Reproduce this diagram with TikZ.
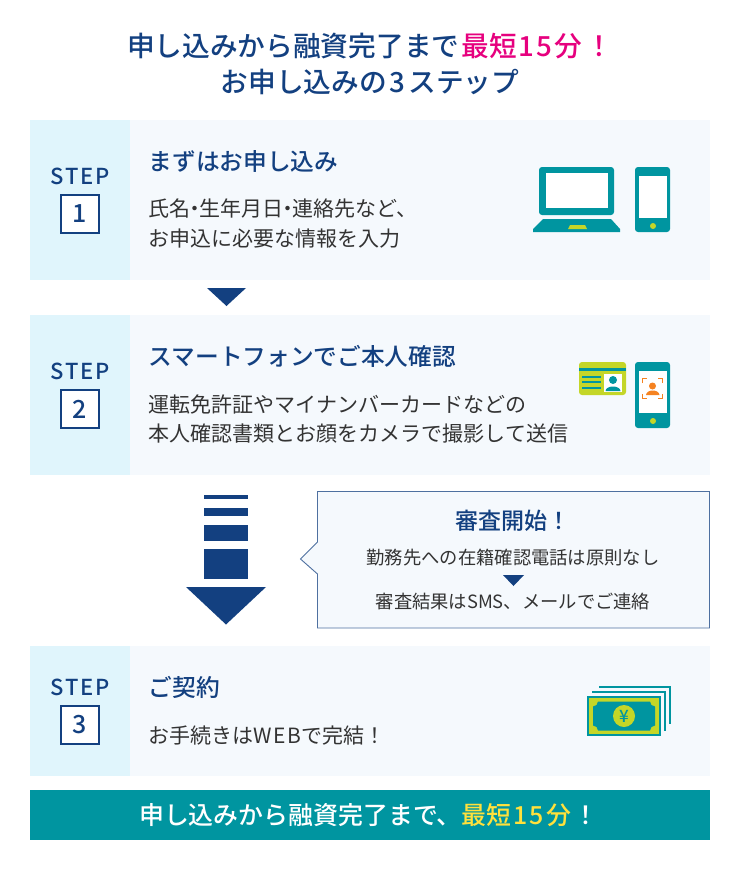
\documentclass[tikz,border=0pt]{standalone}
\usetikzlibrary{positioning}
\usepackage{fontspec}
\setmainfont{Noto Sans CJK JP}[BoldFont={Noto Sans CJK JP Medium}]
\newfontfamily\widelatin{Noto Sans CJK JP}[LetterSpace=8,BoldFont={Noto Sans CJK JP Medium}]
\definecolor{navy}{RGB}{19,64,128}
\definecolor{ink}{RGB}{51,51,51}
\definecolor{pink}{RGB}{230,0,126}
\definecolor{teal}{RGB}{0,149,160}
\definecolor{lime}{RGB}{196,214,40}
\definecolor{gold}{RGB}{255,225,60}
\definecolor{panelbg}{RGB}{245,249,253}
\definecolor{headbg}{RGB}{224,245,252}
\definecolor{person}{RGB}{245,130,32}
\tikzset{
    panelbody/.style={rectangle, fill=panelbg, anchor=north west, inner sep=0pt, minimum width=580pt},
    panelhead/.style={rectangle, fill=headbg, anchor=north west, inner sep=0pt, minimum width=100pt},
    stepword/.style={text=navy, inner sep=0pt, font=\fontsize{22}{26}\widelatin\bfseries},
    numbox/.style={rectangle, draw=navy, line width=1.2pt, fill=white, minimum size=38pt, inner sep=0pt, text=navy, font=\fontsize{25}{28}\bfseries\selectfont},
    steptitle/.style={anchor=west, inner sep=0pt, text=navy, font=\fontsize{23.7}{28}\bfseries\selectfont},
    bodytext/.style={anchor=west, inner sep=0pt, text=ink, font=\fontsize{21}{25}\selectfont},
    headline/.style={inner sep=0pt, text=navy, font=\fontsize{27.7}{32}\bfseries\selectfont},
    smallnote/.style={inner sep=0pt, text=ink, font=\fontsize{18.3}{22}\selectfont}
}
\begin{document}
\begin{tikzpicture}[x=1pt,y=-1pt]
    \useasboundingbox (0,0) rectangle (740,870);

    % Heading
    \node[headline] (line1) at (370,46) {申し込みから融資完了まで\kern2pt\textcolor{pink}{最短\kern2pt{\widelatin 15}\kern2pt 分\kern3pt！}};
    \node[headline] (line2) at (370,82) {お申し込みの\kern3pt{\widelatin 3}\kern3pt ステップ};

    % Step panels
    \foreach \num/\ytop/\hgt/\ymid in {1/120/160/214,2/315/160/409,3/646/130/725} {
        \node[panelbody, minimum height=\hgt pt] (body\num) at (130,\ytop) {};
        \node[panelhead, minimum height=\hgt pt] (side\num) at (30,\ytop) {};
        \node[numbox] (num\num) at (80,\ymid) {\num};
        \node[stepword, above=9pt of num\num] (word\num) {STEP};
    }

    % Panel texts
    \node[steptitle] (title1) at (148.5,161) {まずはお申し込み};
    \node[bodytext] (text1a) at (148.5,209) {氏名\kern-6pt・\kern-6pt 生年月日\kern-6pt・\kern-6pt 連絡先など、};
    \node[bodytext] (text1b) at (148.5,239) {お申込に必要な情報を入力};
    \node[steptitle] (title2) at (148.5,356) {スマートフォンでご本人確認};
    \node[bodytext] (text2a) at (148.5,404) {運転免許証やマイナンバーカードなどの};
    \node[bodytext] (text2b) at (148.5,434) {本人確認書類とお顔をカメラで撮影して送信};
    \node[steptitle] (title3) at (148.5,687) {ご契約};
    \node[bodytext] (text3a) at (148.5,736) {お手続きは{\widelatin WEB}で完結！};

    % Arrow under step 1
    \fill[navy] (207,288) -- (246,288) -- (226.5,306) -- cycle;

    % Striped arrow
    \foreach \ya/\yb in {495/499,508/516,525/541,549/579} {
        \fill[navy] (204,\ya) rectangle (248,\yb);
    }
    \fill[navy] (186,587) -- (266,587) -- (226,624.5) -- cycle;

    % Callout
    \draw[navy!75!white, line width=0.9pt, fill=panelbg] (317.5,491.5) -- (709.5,491.5) -- (709.5,628) -- (317.5,628)
        -- (317.5,574) -- (300.5,559) -- (317.5,542) -- cycle;
    \node[inner sep=0pt, text=navy, font=\fontsize{23}{27}\bfseries\selectfont] (calloutA) at (513,521) {審査開始！};
    \node[smallnote] (calloutB) at (513,558) {勤務先への在籍確認電話は原則なし};
    \fill[navy] (503,575) -- (524,575) -- (513.5,586) -- cycle;
    \node[smallnote] (calloutC) at (513,602) {審査結果はSMS、メールでご連絡};

    % Laptop and phone
    \fill[teal, rounded corners=3pt] (539,167) rectangle (614,215);
    \fill[white] (546,173) rectangle (608,208);
    \fill[teal] (543,219) -- (611,219) -- (620,229) -- (620,232) -- (533,232) -- (533,229) -- cycle;
    \fill[lime] (570,225) -- (585,225) -- (587,229) -- (568,229) -- cycle;
    \fill[teal, rounded corners=3pt] (635,167) rectangle (670,232);
    \fill[white] (638.5,176) rectangle (667,218);
    \fill[lime] (653,226) circle (3pt);

    % Card and phone
    \fill[lime, rounded corners=3pt] (579,362) rectangle (626,395);
    \fill[teal] (579,368) rectangle (626,371);
    \foreach \y in {377,382,388} {
        \fill[teal] (582,\y-0.8) rectangle (601,\y+0.8);
    }
    \fill[white] (604,374) rectangle (622,392);
    \fill[teal] (613,380) circle (4pt);
    \fill[teal] (605.5,391) .. controls (606,385) and (620,385) .. (620.5,391) -- cycle;
    \fill[teal, rounded corners=3pt] (635,362) rectangle (670,428);
    \fill[white] (638.5,371) rectangle (667,413);
    \fill[lime] (653,421) circle (3pt);
    \draw[person, line width=1.3pt] (642.5,383) -- (642.5,378.5) -- (647,378.5);
    \draw[person, line width=1.3pt] (658,378.5) -- (662.5,378.5) -- (662.5,383);
    \draw[person, line width=1.3pt] (642.5,394) -- (642.5,398.5) -- (647,398.5);
    \draw[person, line width=1.3pt] (658,398.5) -- (662.5,398.5) -- (662.5,394);
    \fill[person] (652.5,386) circle (3.5pt);
    \fill[person] (646,395) .. controls (646.5,389) and (659,389) .. (659.5,395) -- cycle;

    % Bank notes
    \draw[teal, line width=2pt] (599,687) -- (670,687) -- (670,724);
    \draw[teal, line width=2pt] (592,692) -- (665,692) -- (665,731);
    \fill[panelbg] (587,694) rectangle (663,738);
    \fill[teal] (587,696) rectangle (661,736);
    \fill[lime] (589,698) rectangle (658.5,733.5);
    \fill[teal] (598,701.5) -- (650,701.5) arc[start angle=180, end angle=270, radius=5pt] -- (655,725.5)
        arc[start angle=90, end angle=180, radius=5pt] -- (598,730.5) arc[start angle=0, end angle=90, radius=5pt]
        -- (593,706.5) arc[start angle=270, end angle=360, radius=5pt] -- cycle;
    \node[circle, fill=lime, minimum size=22pt, inner sep=0pt, text=teal, font=\fontsize{17}{17}\bfseries\selectfont] (yen) at (624,716) {¥};

    % Bottom band
    \node[rectangle, fill=teal, anchor=north west, inner sep=0pt, minimum width=680pt, minimum height=50pt] (band) at (30,790) {};
    \node[inner sep=0pt, text=white, font=\fontsize{24.9}{29}\bfseries\selectfont] (bandtext) at (369,815) {申し込みから融資完了まで、\textcolor{gold}{最短\kern2pt{\widelatin 15}\kern2pt 分}\kern3pt！};
\end{tikzpicture}
\end{document}
